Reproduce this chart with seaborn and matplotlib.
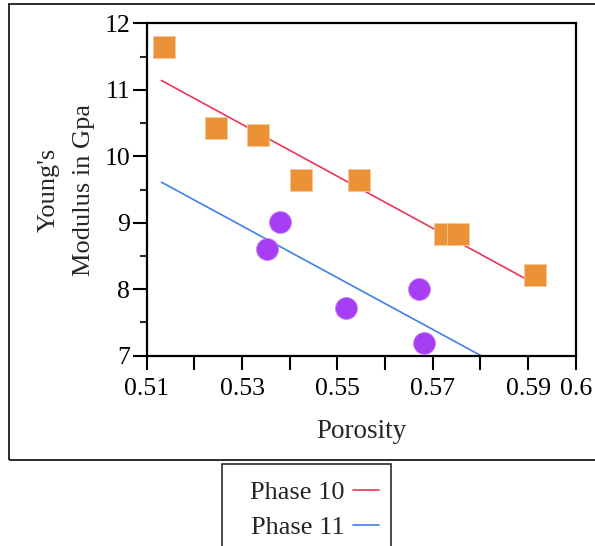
import matplotlib
matplotlib.use("Agg")
import matplotlib.pyplot as plt
from matplotlib.patches import Rectangle
from matplotlib.lines import Line2D
import seaborn as sns
import pandas as pd

# Measured samples
phase10_porosity = [0.5136, 0.5245, 0.5334, 0.5424, 0.5546, 0.5726, 0.5754, 0.5915]
phase10_modulus = [11.65, 10.42, 10.32, 9.64, 9.64, 8.83, 8.83, 8.21]
phase11_porosity = [0.5379, 0.5352, 0.5519, 0.5672, 0.5681]
phase11_modulus = [9.01, 8.61, 7.71, 8.00, 7.19]

# Linear trend lines (end points)
fit_porosity = [0.5131, 0.5912]
fit10_modulus = [11.14, 8.09]
fit11_modulus = [9.61, 6.57]

x_ticks = [0.51, 0.52, 0.53, 0.54, 0.55, 0.56, 0.57, 0.58, 0.59, 0.60]
x_tick_labels = ["0.51", "", "0.53", "", "0.55", "", "0.57", "", "0.59", "0.6"]
y_ticks = [7, 8, 9, 10, 11, 12]
legend_labels = ["Phase 10", "Phase 11"]

sns.set_style("ticks")
plt.rcParams["font.family"] = ["Liberation Serif", "DejaVu Serif"]
plt.rcParams["font.size"] = 18

c_orange = "#EB9136"
c_purple = "#A83EF3"
c_red = "#EA3655"
c_blue = "#3F80EC"

fig = plt.figure(figsize=(5.95, 5.46), dpi=100)
ax = fig.add_axes([146.7 / 595, 1 - 355.7 / 546, (575.7 - 146.7) / 595, (355.7 - 23.3) / 546])

df10 = pd.DataFrame({"Porosity": phase10_porosity, "Modulus": phase10_modulus})
df11 = pd.DataFrame({"Porosity": phase11_porosity, "Modulus": phase11_modulus})
fit10 = pd.DataFrame({"Porosity": fit_porosity, "Modulus": fit10_modulus})
fit11 = pd.DataFrame({"Porosity": fit_porosity, "Modulus": fit11_modulus})

sns.lineplot(data=fit10, x="Porosity", y="Modulus", ax=ax, color=c_red, linewidth=1.2, zorder=2)
sns.lineplot(data=fit11, x="Porosity", y="Modulus", ax=ax, color=c_blue, linewidth=1.2, zorder=2)
sns.scatterplot(data=df10, x="Porosity", y="Modulus", ax=ax, marker="s", s=260,
                color=c_orange, edgecolor="#F6C79A", linewidth=0.6, zorder=3)
sns.scatterplot(data=df11, x="Porosity", y="Modulus", ax=ax, marker="o", s=250,
                color=c_purple, edgecolor="#C88AF8", linewidth=0.6, zorder=3)

ax.set_xlim(0.51, 0.60)
ax.set_ylim(7, 12)
ax.set_xticks(x_ticks)
ax.set_xticklabels(x_tick_labels)
ax.set_yticks(y_ticks)
ax.set_yticks([7.5, 8.5, 9.5, 10.5, 11.5], minor=True)
ax.tick_params(axis="x", which="major", length=10, width=1.5, pad=6, labelsize=18.5, colors="black")
ax.tick_params(axis="y", which="major", length=10, width=1.5, pad=2, labelsize=18.5, colors="black")
ax.tick_params(axis="y", which="minor", length=5, width=1.5)
for s in ax.spines.values():
    s.set_linewidth(1.6)
    s.set_color("black")

ax.set_xlabel("Porosity", fontsize=19.5, labelpad=14)
ax.set_ylabel("Young's\nModulus in Gpa", fontsize=19, labelpad=7, linespacing=1.75)

# outer frame around the plotting area
fig.add_artist(Rectangle((9.3 / 595, 1 - 460 / 546), 1.1, 456 / 546,
                         transform=fig.transFigure, fill=False,
                         edgecolor="#1a1a1a", linewidth=1.3, clip_on=False))

# legend box below the frame
fig.add_artist(Rectangle((222 / 595, -0.05), (391 - 222) / 595, 0.05 + 1 - 464 / 546,
                         transform=fig.transFigure, fill=False,
                         edgecolor="#1a1a1a", linewidth=1.1, clip_on=False))
handles = [Line2D([], [], color=c_red, linewidth=1.2),
           Line2D([], [], color=c_blue, linewidth=1.2)]
fig.legend(handles, legend_labels, loc="upper right",
           bbox_to_anchor=(379 / 595, 1 - 481 / 546), frameon=False,
           markerfirst=False, fontsize=19, handlelength=1.0, handletextpad=0.3,
           labelspacing=0.42, borderpad=0.0, borderaxespad=0.0)

fig.savefig("out.png", dpi=100)
